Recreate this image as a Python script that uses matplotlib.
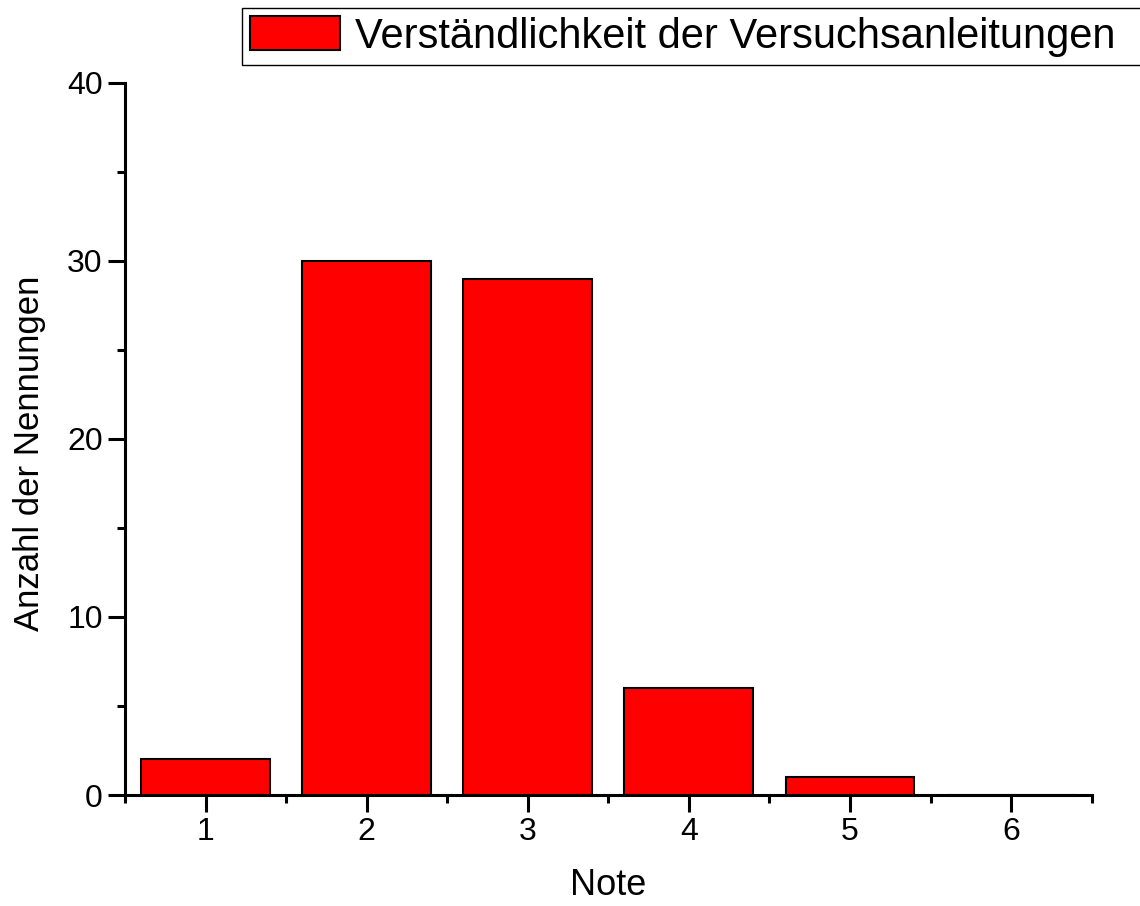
import matplotlib
matplotlib.use("Agg")
import matplotlib.pyplot as plt
from matplotlib.ticker import MultipleLocator

plt.rcParams['font.family'] = ['Liberation Sans', 'DejaVu Sans']

# Daten
noten = [1, 2, 3, 4, 5, 6]
anzahl = [2, 30, 29, 6, 1, 0]
legende = "Verständlichkeit der Versuchsanleitungen"

fig = plt.figure(figsize=(11.4, 9.06), dpi=100)
ax = fig.add_axes([0.1096, 0.1225, 0.848, 0.786])

ax.bar(noten, anzahl, width=0.8, color='#ff0000', edgecolor='black', linewidth=1.5,
       label=legende)

ax.set_xlim(0.5, 6.5)
ax.set_ylim(0, 40)
ax.xaxis.set_major_locator(MultipleLocator(1))
ax.xaxis.set_minor_locator(MultipleLocator(0.5))
ax.yaxis.set_major_locator(MultipleLocator(10))
ax.yaxis.set_minor_locator(MultipleLocator(5))

for s in ['top', 'right']:
    ax.spines[s].set_visible(False)
for s in ['left', 'bottom']:
    ax.spines[s].set_linewidth(2.2)

ax.tick_params(which='major', direction='out', length=12, width=2.2, labelsize=23, pad=4)
ax.tick_params(which='minor', direction='out', length=6, width=2.2)

ax.set_xlabel("Note", fontsize=26, labelpad=15)
ax.set_ylabel("Anzahl der Nennungen", fontsize=25)
ax.yaxis.set_label_coords(-0.082, 0.48)

# Legende oben, rechts angeschnitten wie im Original
leg = fig.legend(loc='upper left', bbox_to_anchor=(0.212, 0.5, 0.8, 0.491), mode='expand',
                 fontsize=30, frameon=True, fancybox=False, edgecolor='black', framealpha=1,
                 handlelength=2.15, handleheight=0.85, borderpad=0.2, handletextpad=0.36,
                 borderaxespad=0)
leg.get_frame().set_linewidth(1.0)

fig.savefig("out.png", dpi=100)
